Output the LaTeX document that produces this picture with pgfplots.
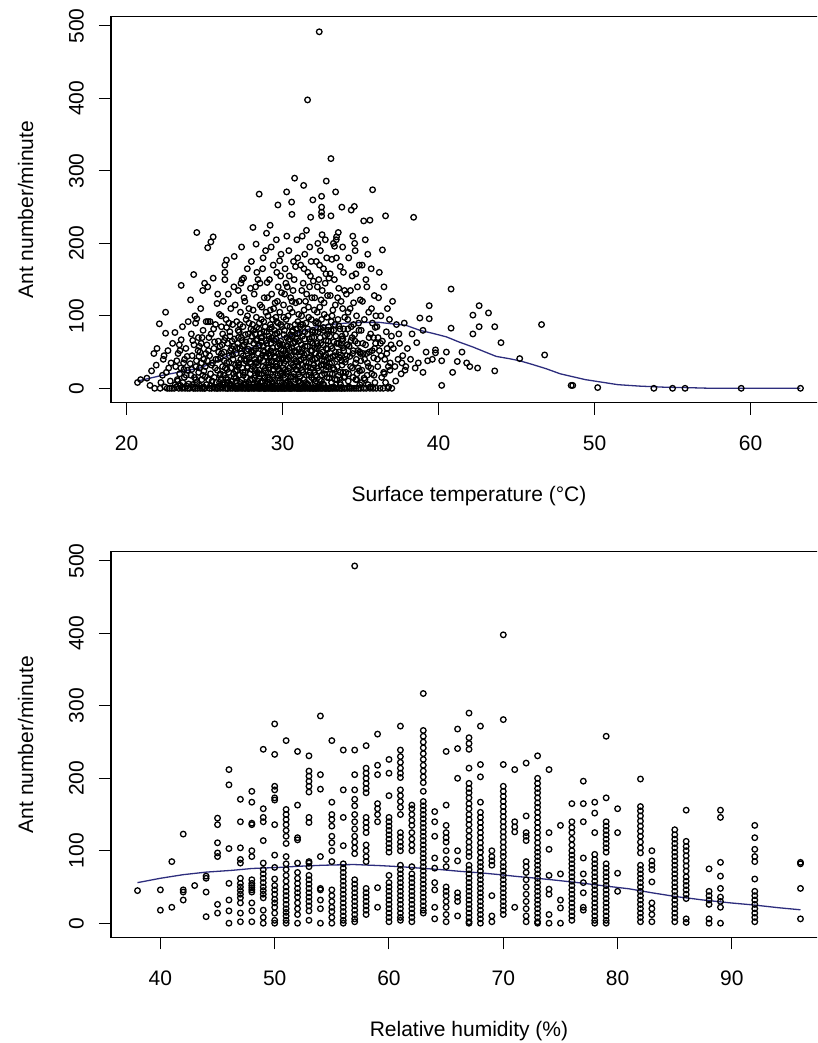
\documentclass[border=0pt]{standalone}
\usepackage{pgfplots}
\pgfplotsset{compat=1.18}
\usepackage{fontspec}
\setmainfont{Liberation Sans}
\definecolor{loess}{RGB}{45,45,125}
\pgfplotsset{
  rplot/.style={
    scale only axis, width=716pt, height=385.8pt, anchor=south west,
    axis line style={line width=1.2pt},
    tick align=outside, tick pos=left, major tick length=12pt,
    every tick/.style={black, line width=1pt},
    ymin=-19.72, ymax=512.72,
    ytick={0,100,...,500},
    /pgf/number format/assume math mode=true,
    tick label style={font=\fontsize{21}{25}\selectfont},
    label style={font=\fontsize{21}{25}\selectfont},
    xticklabel style={anchor=base, yshift=-35.6pt},
    yticklabel style={xshift=-15.4pt, rotate=90, anchor=base},
    ylabel={Ant number/minute},
    ylabel style={at={(axis description cs:-0.1089,0.5)}, anchor=base},
    xlabel style={at={(axis description cs:0.5,-0.2565)}, anchor=base},
    clip=false,
  },
  pts/.style={only marks, mark=o, mark size=2.8pt, mark options={black, line width=1.3pt}},
  fit/.style={no marks, loess, line width=1.3pt},
}
\begin{document}
\begin{tikzpicture}[x=1pt,y=1pt]
\useasboundingbox (0,0) rectangle (817,1043);
\begin{scope}
\clip (0,0) rectangle (817,1043);
% ---------------- top panel ----------------
\begin{axis}[rplot, at={(111pt,640.4pt)},
  xmin=19.0, xmax=64.9, xtick={20,30,40,50,60},
  xlabel={Surface temperature (°C)}]
\addplot[pts] coordinates {
(20.7,8) (20.9,12) (21.3,14) (21.5,4) (21.75,48) (21.6,24) (21.9,32) (21.8,0) (21.95,55)
(22.1,89) (22.15,0) (22.3,18) (22.35,40) (22.5,105) (22.5,76) (22.45,2) (22.6,0) (22.7,28) (22.8,10) (22.65,52) (22.9,0) (22.85,35) (22.95,62) (22.2,8) (22.55,22) (22.75,0) (22.4,45)
(23.05,0) (23.1,77) (23.15,30) (23.2,2) (23.25,12) (23.3,48) (23.35,0) (23.4,20) (23.45,4) (23.5,67) (23.5,142) (23.55,0) (23.6,8) (23.65,35) (23.7,15) (23.75,0) (23.8,55) (23.85,3) (23.9,25) (23.95,92) (23.12,5) (23.38,60) (23.62,1) (23.72,40) (23.92,0) (23.28,10) (23.48,28) (23.82,18) (23.58,85) (23.98,6)
(24.05,0) (24.1,122) (24.12,18) (24.2,45) (24.25,2) (24.3,157) (24.32,60) (24.4,0) (24.45,30) (24.5,215) (24.5,96) (24.52,8) (24.55,0) (24.6,70) (24.62,22) (24.65,4) (24.7,50) (24.72,0) (24.75,110) (24.8,35) (24.82,12) (24.85,0) (24.9,80) (24.92,2) (24.95,40) (24.15,75) (24.35,15) (24.42,90) (24.58,52) (24.68,28) (24.78,62) (24.88,18) (24.98,0) (24.22,5) (24.48,38) (24.28,0) (24.38,100) (24.18,26) (24.88,135) (24.66,58)
(25.0,145) (25.02,0) (25.05,30) (25.1,92) (25.12,5) (25.15,60) (25.2,194) (25.2,140) (25.22,92) (25.25,12) (25.3,0) (25.32,45) (25.35,92) (25.38,20) (25.4,202) (25.42,75) (25.45,0) (25.5,35) (25.55,209) (25.55,152) (25.58,2) (25.6,55) (25.62,15) (25.65,0) (25.7,88) (25.72,40) (25.75,8) (25.8,117) (25.82,25) (25.85,0) (25.88,65) (25.9,50) (25.92,3) (25.95,102) (25.98,18) (25.08,48) (25.28,70) (25.48,10) (25.68,28) (25.78,0) (25.18,38) (25.58,82) (25.38,4) (25.98,58) (25.84,130)
(26.0,0) (26.02,42) (26.05,12) (26.08,85) (26.1,2) (26.12,60) (26.15,30) (26.18,0) (26.2,120) (26.22,18) (26.25,50) (26.28,5) (26.3,150) (26.3,160) (26.3,170) (26.32,70) (26.35,0) (26.38,95) (26.4,177) (26.42,35) (26.45,8) (26.48,62) (26.5,0) (26.52,130) (26.55,22) (26.58,45) (26.6,3) (26.62,78) (26.65,0) (26.68,110) (26.7,28) (26.72,55) (26.75,10) (26.78,0) (26.8,88) (26.82,40) (26.85,2) (26.88,140) (26.9,182) (26.9,15) (26.92,68) (26.95,0) (26.98,32) (26.06,100) (26.26,38) (26.46,0) (26.66,52) (26.86,20) (26.16,75) (26.36,14) (26.56,90) (26.76,65) (26.96,115) (26.44,26) (26.64,6)
(27.0,0) (27.02,48) (27.04,10) (27.06,92) (27.08,25) (27.1,0) (27.12,62) (27.14,4) (27.16,135) (27.18,35) (27.2,0) (27.22,78) (27.24,18) (27.26,55) (27.28,2) (27.3,105) (27.32,40) (27.34,0) (27.36,70) (27.38,12) (27.4,150) (27.42,28) (27.44,0) (27.46,85) (27.48,45) (27.5,152) (27.52,6) (27.54,60) (27.56,0) (27.58,120) (27.6,22) (27.62,38) (27.64,0) (27.66,95) (27.68,15) (27.7,52) (27.72,3) (27.74,165) (27.76,30) (27.78,0) (27.8,75) (27.82,8) (27.84,110) (27.86,42) (27.88,0) (27.9,65) (27.92,20) (27.94,138) (27.96,1) (27.98,50) (27.11,30) (27.27,88) (27.43,58) (27.59,5) (27.75,100) (27.91,36) (27.17,70) (27.33,145) (27.49,18) (27.65,64) (27.81,0) (27.97,82) (27.53,125) (27.37,195) (27.69,40)
(28.0,175) (28.02,0) (28.04,45) (28.06,12) (28.08,88) (28.1,222) (28.1,30) (28.12,0) (28.14,62) (28.16,5) (28.18,130) (28.2,40) (28.22,0) (28.24,75) (28.26,18) (28.28,55) (28.3,199) (28.3,2) (28.32,98) (28.34,35) (28.36,0) (28.38,68) (28.4,10) (28.42,150) (28.44,48) (28.46,0) (28.48,82) (28.5,268) (28.5,25) (28.52,60) (28.54,0) (28.56,115) (28.58,8) (28.6,42) (28.62,0) (28.64,95) (28.66,20) (28.68,70) (28.7,3) (28.72,165) (28.74,38) (28.76,0) (28.78,58) (28.8,14) (28.82,125) (28.84,50) (28.86,0) (28.88,85) (28.9,28) (28.92,0) (28.94,105) (28.96,44) (28.97,214) (28.98,6) (28.03,72) (28.15,52) (28.27,140) (28.39,22) (28.51,90) (28.63,65) (28.75,180) (28.87,15) (28.99,78) (28.11,108) (28.23,26) (28.35,160) (28.47,4) (28.59,76) (28.71,46) (28.83,0) (28.95,66) (28.19,2) (28.43,32) (28.67,112) (28.91,190) (28.55,145) (28.79,92) (28.31,66)
(29.0,0) (29.02,55) (29.04,15) (29.06,100) (29.08,32) (29.1,0) (29.12,72) (29.14,5) (29.16,150) (29.18,45) (29.2,225) (29.2,0) (29.22,88) (29.24,20) (29.26,62) (29.28,0) (29.3,130) (29.32,38) (29.34,8) (29.36,95) (29.38,0) (29.4,170) (29.42,50) (29.44,25) (29.46,0) (29.48,80) (29.5,12) (29.52,118) (29.54,42) (29.56,0) (29.58,68) (29.6,205) (29.6,3) (29.62,92) (29.64,30) (29.66,0) (29.68,58) (29.7,253) (29.7,18) (29.72,140) (29.74,48) (29.76,0) (29.78,78) (29.8,10) (29.82,105) (29.84,35) (29.86,0) (29.88,65) (29.9,185) (29.92,22) (29.94,0) (29.96,85) (29.98,40) (29.03,125) (29.13,28) (29.23,52) (29.33,0) (29.43,110) (29.53,75) (29.63,160) (29.73,0) (29.83,60) (29.93,132) (29.07,8) (29.17,82) (29.27,195) (29.37,16) (29.47,44) (29.57,98) (29.67,120) (29.77,26) (29.87,155) (29.97,2) (29.11,36) (29.31,70) (29.51,0) (29.71,90) (29.91,54) (29.41,2) (29.61,34) (29.81,176) (29.21,108) (29.01,146)
(30.0,0) (30.02,60) (30.04,18) (30.06,115) (30.08,35) (30.1,0) (30.12,80) (30.14,5) (30.16,165) (30.18,48) (30.2,0) (30.22,95) (30.24,22) (30.26,271) (30.26,70) (30.28,0) (30.3,140) (30.32,40) (30.34,10) (30.36,100) (30.38,0) (30.4,190) (30.42,55) (30.44,28) (30.46,0) (30.48,85) (30.5,15) (30.52,125) (30.54,45) (30.56,0) (30.58,257) (30.58,72) (30.6,240) (30.6,3) (30.62,105) (30.64,32) (30.66,0) (30.68,62) (30.7,175) (30.72,20) (30.74,150) (30.76,50) (30.77,290) (30.78,0) (30.8,88) (30.82,12) (30.84,118) (30.86,38) (30.88,0) (30.9,68) (30.92,205) (30.94,25) (30.96,0) (30.98,92) (30.03,42) (30.13,130) (30.23,8) (30.33,58) (30.43,155) (30.53,0) (30.63,78) (30.73,30) (30.83,168) (30.93,2) (30.07,98) (30.17,26) (30.27,210) (30.37,66) (30.47,110) (30.57,16) (30.67,135) (30.79,52) (30.87,82) (30.97,180) (30.11,0) (30.31,46) (30.51,74) (30.71,2) (30.91,36) (30.41,6) (30.61,120) (30.81,64) (30.21,145)
(31.0,0) (31.02,65) (31.04,20) (31.06,120) (31.08,38) (31.1,0) (31.12,85) (31.14,8) (31.16,170) (31.18,50) (31.2,0) (31.22,100) (31.24,25) (31.26,210) (31.28,72) (31.3,0) (31.32,145) (31.35,280) (31.34,42) (31.36,12) (31.38,108) (31.4,0) (31.42,185) (31.44,58) (31.46,30) (31.48,0) (31.5,90) (31.52,18) (31.54,130) (31.56,48) (31.58,0) (31.6,398) (31.6,75) (31.62,160) (31.64,5) (31.66,112) (31.68,35) (31.7,0) (31.72,68) (31.74,195) (31.76,22) (31.78,155) (31.8,236) (31.8,52) (31.82,0) (31.84,95) (31.86,15) (31.88,125) (31.9,40) (31.92,0) (31.94,260) (31.94,80) (31.96,28) (31.98,0) (31.03,102) (31.13,45) (31.23,135) (31.33,2) (31.43,78) (31.53,218) (31.63,30) (31.73,140) (31.83,175) (31.93,62) (31.07,10) (31.17,88) (31.27,55) (31.37,165) (31.47,120) (31.57,6) (31.67,98) (31.77,44) (31.87,70) (31.97,148) (31.15,0) (31.45,3) (31.75,0) (31.25,32)
(32.0,0) (32.02,70) (32.04,22) (32.06,125) (32.08,40) (32.1,0) (32.12,90) (32.14,10) (32.16,175) (32.18,55) (32.2,0) (32.22,105) (32.24,28) (32.26,200) (32.28,78) (32.3,0) (32.32,150) (32.35,492) (32.34,45) (32.36,12) (32.38,112) (32.4,0) (32.42,190) (32.44,62) (32.46,32) (32.48,0) (32.5,265) (32.5,250) (32.5,243) (32.5,238) (32.5,95) (32.52,18) (32.54,135) (32.56,50) (32.58,0) (32.6,80) (32.62,165) (32.64,5) (32.66,118) (32.68,38) (32.7,0) (32.72,72) (32.74,205) (32.76,25) (32.78,158) (32.8,286) (32.8,55) (32.82,0) (32.84,98) (32.86,15) (32.88,128) (32.9,42) (32.92,0) (32.94,85) (32.96,30) (32.98,0) (32.03,108) (32.13,48) (32.23,140) (32.33,2) (32.43,82) (32.53,212) (32.63,33) (32.73,145) (32.83,180) (32.93,65) (32.07,8) (32.17,92) (32.27,58) (32.37,170) (32.47,122) (32.57,6) (32.67,102) (32.77,46) (32.87,75) (32.97,152) (32.15,0) (32.45,3) (32.75,0) (32.25,35)
(33.0,0) (33.02,72) (33.04,20) (33.06,128) (33.08,42) (33.1,317) (33.1,238) (33.1,0) (33.12,92) (33.14,8) (33.16,178) (33.18,55) (33.2,0) (33.22,108) (33.24,28) (33.26,200) (33.28,80) (33.3,0) (33.32,150) (33.34,45) (33.36,12) (33.4,271) (33.38,115) (33.42,0) (33.44,205) (33.46,209) (33.48,62) (33.5,30) (33.52,0) (33.55,95) (33.58,18) (33.6,138) (33.62,50) (33.65,0) (33.68,82) (33.7,168) (33.72,5) (33.75,120) (33.78,38) (33.8,250) (33.8,0) (33.82,72) (33.85,195) (33.88,22) (33.9,160) (33.92,52) (33.95,0) (33.98,98) (33.15,35) (33.35,88) (33.53,125) (33.73,60) (33.93,15) (33.25,2) (33.45,180) (33.65,42) (33.85,110) (33.05,158) (33.57,215) (33.67,8) (33.87,68) (33.97,135) (33.33,196) (33.77,0) (33.17,100)
(34.0,0) (34.03,75) (34.06,22) (34.09,130) (34.12,45) (34.15,0) (34.18,95) (34.21,10) (34.24,180) (34.27,58) (34.3,0) (34.33,110) (34.36,30) (34.4,246) (34.4,85) (34.43,0) (34.46,155) (34.49,48) (34.52,15) (34.55,118) (34.6,251) (34.58,0) (34.62,200) (34.65,65) (34.68,35) (34.71,0) (34.74,100) (34.77,20) (34.8,140) (34.83,52) (34.86,0) (34.89,80) (34.92,170) (34.95,5) (34.98,122) (34.05,40) (34.25,2) (34.45,70) (34.65,190) (34.85,28) (34.15,60) (34.35,135) (34.55,88) (34.75,12) (34.95,50) (34.5,210) (34.2,105) (34.7,158)
(35.0,0) (35.04,80) (35.08,25) (35.12,120) (35.16,48) (35.2,231) (35.2,0) (35.24,95) (35.28,12) (35.3,205) (35.32,60) (35.36,0) (35.4,140) (35.44,35) (35.48,5) (35.52,105) (35.56,50) (35.6,232) (35.6,0) (35.64,75) (35.68,165) (35.72,20) (35.77,274) (35.76,90) (35.8,0) (35.84,42) (35.88,128) (35.92,8) (35.96,62) (35.1,170) (35.34,150) (35.5,30) (35.7,110) (35.9,55) (35.26,40) (35.46,185) (35.62,2) (35.82,70) (35.98,100) (35.42,18)
(36.0,0) (36.05,85) (36.1,30) (36.15,125) (36.2,52) (36.25,0) (36.3,100) (36.35,15) (36.4,191) (36.4,65) (36.45,0) (36.5,140) (36.55,40) (36.6,238) (36.6,8) (36.65,78) (36.7,55) (36.75,0) (36.8,2) (36.85,95) (36.9,35) (36.95,60) (36.2,160) (36.52,20) (36.72,110) (36.32,45) (36.12,70) (36.88,25)
(37.0,0) (37.1,55) (37.2,30) (37.3,88) (37.4,40) (37.5,62) (37.6,20) (37.7,45) (37.8,90) (37.9,30) (37.05,120) (37.25,10) (37.45,75) (37.65,35) (37.85,25)
(38.4,236) (38.0,55) (38.6,63) (38.8,97) (39.4,96) (39.4,114) (39.2,50) (39.8,49) (39.8,53) (38.2,40) (38.5,28) (38.7,35) (39.0,22) (39.3,38) (39.6,40) (38.3,75) (40.2,38) (40.2,4) (40.5,50) (40.8,137) (40.8,83) (40.9,22) (41.2,37) (41.8,35) (42.2,101) (42.2,75) (42.5,28) (42.6,114) (42.6,85) (43.2,104) (43.6,85) (43.6,24) (44.0,63) (45.2,41) (46.6,88) (46.8,46) (48.5,4) (48.6,4) (50.2,1) (53.8,0) (55.0,0) (55.8,0) (59.4,0) (63.2,0) (42.0,30) (41.5,50) (39.0,80)
(23.22,38) (23.42,52) (23.68,26) (23.88,44) (24.08,34) (24.24,66) (24.44,12) (24.64,44) (24.84,70) (24.96,24) (25.04,16) (25.24,52) (25.44,32) (25.64,64) (25.86,40) (25.96,8)
(26.01,20) (26.09,48) (26.19,8) (26.27,66) (26.33,28) (26.41,84) (26.49,12) (26.57,36) (26.63,72) (26.71,4) (26.79,46) (26.87,58) (26.97,24)
(27.01,14) (27.09,56) (27.15,80) (27.21,32) (27.29,8) (27.35,48) (27.41,66) (27.47,22) (27.55,40) (27.61,74) (27.67,6) (27.73,28) (27.79,54) (27.85,90) (27.93,12) (27.99,34)
(28.01,26) (28.07,50) (28.13,80) (28.21,14) (28.29,36) (28.33,84) (28.37,6) (28.45,58) (28.49,20) (28.53,40) (28.61,70) (28.69,10) (28.73,30) (28.77,52) (28.81,78) (28.85,24) (28.89,4) (28.93,44) (28.97,62)
(29.05,22) (29.09,48) (29.15,68) (29.19,12) (29.25,36) (29.29,84) (29.35,56) (29.39,26) (29.45,66) (29.49,4) (29.55,30) (29.59,50) (29.65,76) (29.69,14) (29.75,40) (29.79,62) (29.85,20) (29.89,88) (29.95,46) (29.99,8)
(30.01,28) (30.05,52) (30.09,74) (30.15,14) (30.19,38) (30.25,58) (30.29,86) (30.35,24) (30.39,44) (30.45,68) (30.49,6) (30.55,34) (30.59,56) (30.65,80) (30.69,16) (30.75,40) (30.79,64) (30.85,26) (30.89,50) (30.95,76) (30.99,10)
(31.01,30) (31.05,54) (31.09,76) (31.11,16) (31.19,40) (31.21,60) (31.29,88) (31.31,22) (31.39,46) (31.41,68) (31.49,8) (31.51,36) (31.59,58) (31.61,82) (31.69,18) (31.71,42) (31.79,64) (31.81,28) (31.89,52) (31.91,78) (31.99,12)
(32.01,32) (32.05,56) (32.09,78) (32.11,18) (32.19,42) (32.21,62) (32.29,90) (32.31,24) (32.39,48) (32.41,70) (32.49,10) (32.51,38) (32.59,60) (32.61,84) (32.69,20) (32.71,44) (32.79,66) (32.81,30) (32.89,54) (32.91,80) (32.99,14)
(33.01,34) (33.09,58) (33.11,80) (33.19,20) (33.21,44) (33.29,64) (33.31,26) (33.39,50) (33.41,72) (33.49,12) (33.51,40) (33.59,62) (33.61,86) (33.69,22) (33.71,46) (33.79,68) (33.81,32) (33.89,56) (33.91,82) (33.99,16)
(34.01,36) (34.11,60) (34.19,82) (34.23,20) (34.31,44) (34.39,66) (34.47,28) (34.53,52) (34.61,74) (34.69,12) (34.73,40) (34.81,62) (34.87,90) (34.93,24) (34.99,48)
(35.02,38) (35.14,62) (35.22,14) (35.38,48) (35.54,70) (35.66,28) (35.74,52) (35.86,18) (35.94,84) (35.06,8)
(36.08,40) (36.28,62) (36.48,22) (36.68,48) (36.78,30) (36.98,72)
};
\addplot[fit] coordinates {
(20.7,10) (21.5,14) (22.3,18) (23.3,22) (24.2,26) (24.7,28) (25.8,38) (26.8,48) (28.0,56) (29.0,63) (30.0,70) (30.7,74) (31.3,79) (32.0,84) (33.0,88) (34.1,90) (35.2,91) (36.2,91) (37.0,89) (37.9,87) (38.8,80) (39.6,76) (40.5,71) (41.3,64) (42.2,57) (43.0,50) (43.7,44) (44.5,41) (45.2,38) (46.0,33) (46.9,27) (47.8,20) (48.6,16) (49.4,12) (50.3,9) (51.5,5) (52.9,3) (54.5,1.5) (55.8,1) (57.5,0) (60,0) (63.2,0)
};
\end{axis}
% ---------------- bottom panel ----------------
\begin{axis}[rplot, at={(111pt,105.5pt)},
  xmin=35.68, xmax=98.32, xtick={40,50,60,70,80,90},
  xlabel={Relative humidity (\%)}]
\addplot[pts] coordinates {
(38,45) (40,46) (40,18) (41,85) (41,22) (42,123) (42,46) (42,43) (42,32) (43,52)
(44,65) (44,62) (44,43) (44,9)
(45,145) (45,136) (45,111) (45,97) (45,92) (45,26) (45,14)
(46,212) (46,191) (46,103) (46,55) (46,32) (46,17) (46,0)
(47,171) (47,140) (47,104) (47,88) (47,83) (47,62) (47,55) (47,50) (47,45) (47,40) (47,35) (47,28) (47,14) (47,2)
(48,182) (48,167) (48,138) (48,136) (48,100) (48,92) (48,60) (48,55) (48,52) (48,49) (48,46) (48,43) (48,28) (48,17) (48,2)
(49,240) (49,158) (49,146) (49,140) (49,114) (49,83) (49,74) (49,68) (49,62) (49,56) (49,50) (49,45) (49,40) (49,35) (49,18) (49,8) (49,0)
(50,275) (50,233) (50,189) (50,184) (50,173) (50,170) (50,136) (50,94) (50,77) (50,61) (50,52) (50,46) (50,40) (50,33) (50,28) (50,22) (50,14) (50,4) (50,0)
(51,252) (51,157) (51,150) (51,143) (51,136) (51,128) (51,120) (51,110) (51,92) (51,82) (51,74) (51,66) (51,58) (51,50) (51,44) (51,38) (51,32) (51,26) (51,20) (51,15) (51,10) (51,4) (51,0)
(52,237) (52,163) (52,118) (52,115) (52,83) (52,70) (52,62) (52,55) (52,48) (52,42) (52,36) (52,28) (52,20) (52,12) (52,0)
(53,231) (53,210) (53,203) (53,196) (53,189) (53,181) (53,146) (53,139) (53,85) (53,83) (53,78) (53,66) (53,60) (53,54) (53,48) (53,42) (53,36) (53,30) (53,24) (53,17) (53,4)
(54,286) (54,205) (54,185) (54,92) (54,48) (54,46) (54,32) (54,20) (54,0)
(55,252) (55,167) (55,150) (55,143) (55,134) (55,120) (55,111) (55,100) (55,85) (55,46) (55,38) (55,30) (55,22) (55,16) (55,8) (55,0)
(56,239) (56,184) (56,146) (56,107) (56,82) (56,76) (56,70) (56,64) (56,58) (56,52) (56,46) (56,40) (56,34) (56,28) (56,22) (56,16) (56,10) (56,4) (56,0)
(57,493) (57,239) (57,205) (57,184) (57,171) (57,162) (57,150) (57,140) (57,130) (57,120) (57,112) (57,104) (57,96) (57,60) (57,54) (57,48) (57,42) (57,36) (57,30) (57,24) (57,18) (57,12) (57,6) (57,2)
(58,245) (58,214) (58,207) (58,200) (58,193) (58,186) (58,180) (58,146) (58,139) (58,132) (58,125) (58,108) (58,100) (58,92) (58,85) (58,48) (58,42) (58,36) (58,30) (58,24) (58,18) (58,12)
(59,261) (59,218) (59,205) (59,165) (59,158) (59,150) (59,140) (59,49) (59,22)
(60,226) (60,207) (60,176) (60,146) (60,140) (60,134) (60,128) (60,122) (60,116) (60,110) (60,104) (60,98) (60,66) (60,56) (60,50) (60,44) (60,38) (60,32) (60,26) (60,20) (60,14) (60,8) (60,2)
(61,272) (61,239) (61,230) (61,222) (61,214) (61,207) (61,201) (61,184) (61,176) (61,168) (61,160) (61,150) (61,125) (61,119) (61,112) (61,106) (61,100) (61,80) (61,74) (61,68) (61,62) (61,56) (61,50) (61,44) (61,38) (61,32) (61,26) (61,20) (61,14) (61,8) (61,4)
(62,163) (62,158) (62,150) (62,142) (62,135) (62,125) (62,116) (62,108) (62,100) (62,78) (62,68) (62,62) (62,56) (62,50) (62,44) (62,38) (62,32) (62,26) (62,20) (62,14) (62,8) (62,2)
(63,317) (63,266) (63,258) (63,250) (63,242) (63,234) (63,226) (63,218) (63,210) (63,202) (63,194) (63,182) (63,168) (63,162) (63,156) (63,150) (63,144) (63,138) (63,132) (63,126) (63,120) (63,114) (63,108) (63,102) (63,96) (63,90) (63,84) (63,78) (63,72) (63,66) (63,60) (63,54) (63,48) (63,42) (63,36) (63,30) (63,24) (63,18) (63,14)
(64,154) (64,140) (64,120) (64,90) (64,76) (64,56) (64,46) (64,22) (64,6)
(65,237) (65,163) (65,135) (65,125) (65,118) (65,112) (65,100) (65,88) (65,78) (65,50) (65,44) (65,38) (65,30) (65,22) (65,12) (65,2)
(66,268) (66,241) (66,200) (66,100) (66,86) (66,42) (66,36) (66,30) (66,10)
(67,290) (67,256) (67,248) (67,240) (67,214) (67,193) (67,186) (67,180) (67,173) (67,165) (67,158) (67,150) (67,143) (67,136) (67,128) (67,120) (67,112) (67,105) (67,98) (67,92) (67,80) (67,74) (67,68) (67,62) (67,56) (67,50) (67,44) (67,38) (67,32) (67,26) (67,20) (67,14) (67,8) (67,2) (67,0)
(68,272) (68,219) (68,202) (68,167) (68,153) (68,146) (68,139) (68,132) (68,125) (68,118) (68,111) (68,104) (68,98) (68,90) (68,84) (68,78) (68,72) (68,66) (68,60) (68,54) (68,48) (68,42) (68,36) (68,30) (68,24) (68,18) (68,12) (68,6) (68,0)
(69,100) (69,92) (69,86) (69,80) (69,38) (69,10) (69,2)
(70,398) (70,281) (70,219) (70,189) (70,182) (70,175) (70,168) (70,161) (70,154) (70,147) (70,140) (70,133) (70,126) (70,119) (70,112) (70,105) (70,98) (70,92) (70,84) (70,78) (70,72) (70,66) (70,60) (70,54) (70,48) (70,42) (70,36) (70,30) (70,24) (70,18) (70,12)
(71,212) (71,140) (71,133) (71,126) (71,22)
(72,221) (72,148) (72,125) (72,120) (72,114) (72,85) (72,78) (72,70) (72,60) (72,50) (72,40) (72,30) (72,20) (72,10) (72,2)
(73,231) (73,200) (73,193) (73,186) (73,180) (73,173) (73,166) (73,160) (73,153) (73,146) (73,139) (73,132) (73,125) (73,118) (73,111) (73,104) (73,98) (73,92) (73,86) (73,80) (73,74) (73,68) (73,62) (73,56) (73,50) (73,44) (73,38) (73,32) (73,26) (73,20) (73,14) (73,8) (73,2) (73,0)
(74,212) (74,125) (74,102) (74,66) (74,47) (74,40) (74,12) (74,0)
(75,135) (75,68) (75,32) (75,21) (75,0)
(76,165) (76,140) (76,132) (76,125) (76,116) (76,108) (76,100) (76,94) (76,88) (76,82) (76,76) (76,70) (76,64) (76,58) (76,52) (76,46) (76,40) (76,34) (76,28) (76,22) (76,16) (76,10) (76,4)
(77,196) (77,165) (77,140) (77,90) (77,68) (77,56) (77,42) (77,22) (77,18)
(78,167) (78,152) (78,125) (78,95) (78,88) (78,82) (78,76) (78,70) (78,64) (78,58) (78,52) (78,46) (78,40) (78,34) (78,28) (78,22) (78,16) (78,10) (78,4) (78,0)
(79,258) (79,173) (79,140) (79,134) (79,128) (79,122) (79,116) (79,110) (79,104) (79,98) (79,82) (79,76) (79,70) (79,64) (79,58) (79,52) (79,46) (79,40) (79,34) (79,28) (79,22) (79,16) (79,10) (79,4) (79,0)
(80,158) (80,125) (80,69) (80,44)
(82,199) (82,161) (82,155) (82,148) (82,141) (82,134) (82,127) (82,120) (82,112) (82,104) (82,97) (82,80) (82,74) (82,68) (82,62) (82,56) (82,50) (82,44) (82,38) (82,32) (82,26) (82,20) (82,14) (82,8) (82,2)
(83,100) (83,86) (83,80) (83,74) (83,57) (83,28) (83,20) (83,12) (83,2)
(85,129) (85,122) (85,116) (85,110) (85,104) (85,98) (85,92) (85,86) (85,80) (85,74) (85,68) (85,62) (85,56) (85,50) (85,44) (85,38) (85,32) (85,26) (85,20) (85,14) (85,8) (85,2)
(86,156) (86,113) (86,106) (86,100) (86,93) (86,86) (86,79) (86,72) (86,64) (86,58) (86,52) (86,46) (86,40) (86,34) (86,6) (86,1)
(88,75) (88,44) (88,38) (88,32) (88,26) (88,6) (88,0)
(89,156) (89,146) (89,84) (89,65) (89,48) (89,36) (89,30) (89,22) (89,0)
(92,135) (92,118) (92,102) (92,92) (92,85) (92,61) (92,44) (92,38) (92,32) (92,26) (92,20) (92,14) (92,8) (92,2)
(96,84) (96,82) (96,48) (96,6)
};
\addplot[fit] coordinates {
(38,56) (40,62) (42,67) (44,70.5) (46.3,73) (48,75.5) (50.4,77) (52,78.5) (54.2,80) (56.9,81) (59.2,79.5) (61,78) (62.7,76) (64.5,74) (66.2,71.6) (68,69.5) (69.7,67) (71.2,64.5) (72.7,62.4) (74.5,59.5) (76.8,55.5) (79.1,51) (81,47.5) (83,42) (85,37) (87.5,32) (89.9,28) (92,25) (94,21.5) (96,18.5)
};
\end{axis}
\end{scope}
\end{tikzpicture}
\end{document}
